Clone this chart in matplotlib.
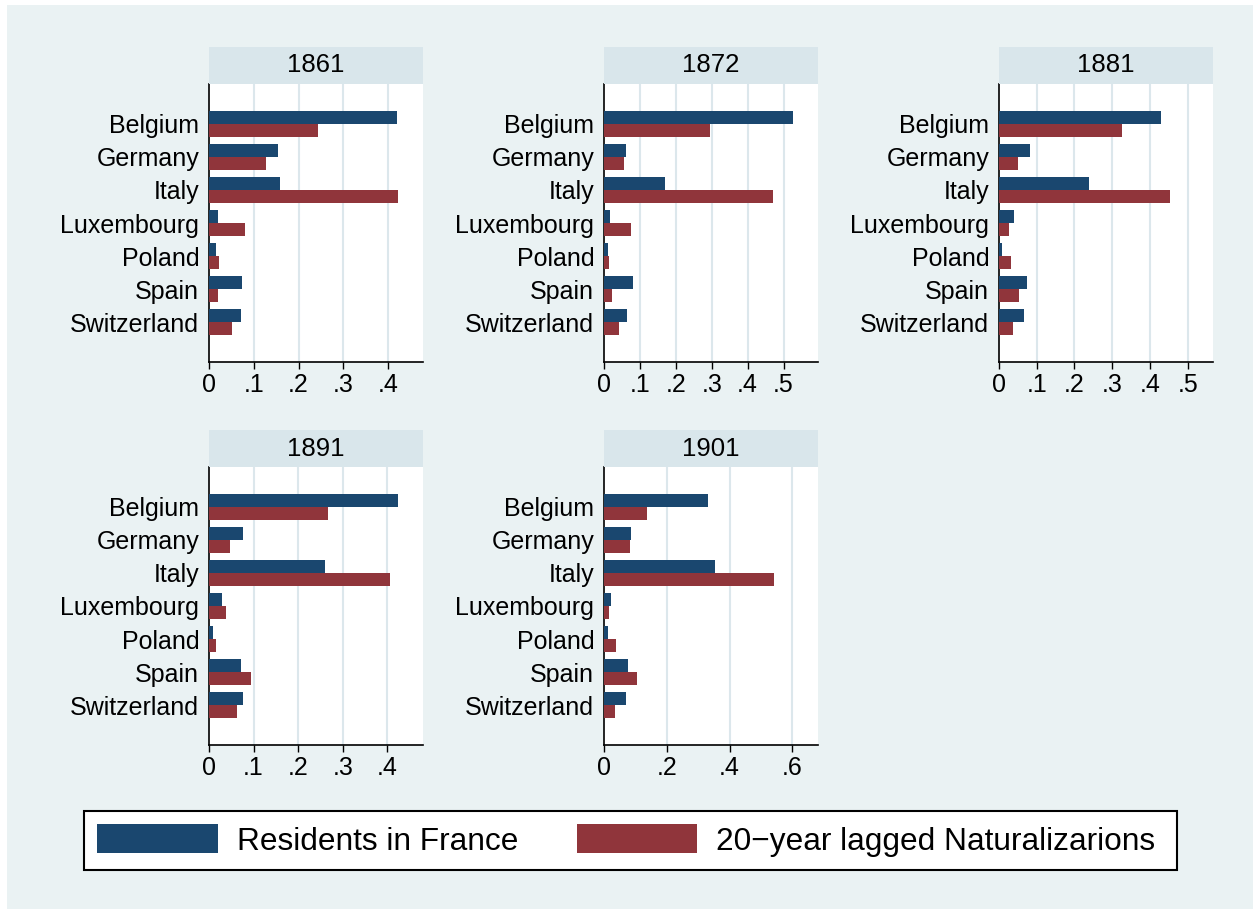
import matplotlib.pyplot as plt
from matplotlib.patches import Rectangle, Patch
from matplotlib.ticker import FuncFormatter
import numpy as np

plt.rcParams['font.family'] = ['Liberation Sans', 'DejaVu Sans']

# Data
countries = ['Belgium', 'Germany', 'Italy', 'Luxembourg', 'Poland', 'Spain', 'Switzerland']
years = ['1861', '1872', '1881', '1891', '1901']

res_1861 = [0.420, 0.154, 0.158, 0.020, 0.016, 0.074, 0.072]
res_1872 = [0.526, 0.060, 0.171, 0.018, 0.011, 0.081, 0.065]
res_1881 = [0.428, 0.081, 0.238, 0.039, 0.007, 0.073, 0.065]
res_1891 = [0.425, 0.076, 0.261, 0.029, 0.010, 0.072, 0.076]
res_1901 = [0.331, 0.086, 0.355, 0.022, 0.013, 0.077, 0.070]

nat_1861 = [0.244, 0.127, 0.422, 0.080, 0.022, 0.020, 0.052]
nat_1872 = [0.294, 0.057, 0.472, 0.074, 0.015, 0.021, 0.042]
nat_1881 = [0.327, 0.051, 0.453, 0.027, 0.033, 0.052, 0.037]
nat_1891 = [0.267, 0.046, 0.407, 0.039, 0.016, 0.094, 0.063]
nat_1901 = [0.138, 0.084, 0.541, 0.017, 0.038, 0.105, 0.036]

residents = [res_1861, res_1872, res_1881, res_1891, res_1901]
naturalizations = [nat_1861, nat_1872, nat_1881, nat_1891, nat_1901]

# axis ranges and tick steps per panel
xmax = [0.478, 0.596, 0.567, 0.480, 0.682]
xstep = [0.1, 0.1, 0.1, 0.1, 0.2]

navy = '#1A476F'
maroon = '#90353B'
bg = '#EAF2F3'
strip_col = '#D9E6EB'
grid_col = '#DCE7EC'

W, H = 1253, 909
fig = plt.figure(figsize=(W / 100, H / 100), dpi=100)
fig.patch.set_facecolor('white')
fig.patches.append(Rectangle((7 / W, 0), 1 - 7 / W, 1 - 5 / H, transform=fig.transFigure,
                             facecolor=bg, edgecolor='none', zorder=-10))

lefts = [209, 604, 999, 209, 604]
tops = [84, 84, 84, 467, 467]
pw, ph, sh = 214, 278, 37


def fmt(v, pos):
    if abs(v) < 1e-9:
        return '0'
    return ('%.1f' % v).lstrip('0')


y = np.arange(len(countries))
bh = 0.39

for k in range(len(years)):
    x0, t0 = lefts[k], tops[k]
    ax = fig.add_axes([x0 / W, 1 - (t0 + ph) / H, pw / W, ph / H])
    ax.set_facecolor('white')
    ax.barh(y - bh / 2, residents[k], height=bh, color=navy, zorder=3)
    ax.barh(y + bh / 2, naturalizations[k], height=bh, color=maroon, zorder=3)
    ax.set_ylim(len(countries) - 1 + 1.21, -1.21)
    ax.set_xlim(0, xmax[k])
    ticks = np.arange(0, xmax[k], xstep[k])
    ax.set_xticks(ticks)
    ax.xaxis.set_major_formatter(FuncFormatter(fmt))
    for t in ticks[1:]:
        ax.axvline(t, color=grid_col, lw=1.5, zorder=1)
    ax.set_yticks(y)
    ax.set_yticklabels(countries)
    ax.tick_params(axis='y', length=0, pad=7, labelsize=18)
    ax.tick_params(axis='x', length=5, width=1, pad=3, labelsize=18)
    for s in ['top', 'right']:
        ax.spines[s].set_visible(False)
    ax.spines['left'].set_linewidth(1.2)
    ax.spines['bottom'].set_linewidth(1.2)

    sax = fig.add_axes([x0 / W, 1 - t0 / H, pw / W, sh / H])
    sax.set_facecolor(strip_col)
    sax.set_xticks([])
    sax.set_yticks([])
    for s in sax.spines.values():
        s.set_visible(False)
    sax.text(0.5, 0.5, years[k], ha='center', va='center', fontsize=18.5,
             transform=sax.transAxes)

handles = [Patch(facecolor=navy, label='Residents in France'),
           Patch(facecolor=maroon, label='20\u2212year lagged Naturalizarions ')]
leg = fig.legend(handles=handles, loc='center', bbox_to_anchor=(630.5 / W, 1 - 840.5 / H),
                 ncol=2, fontsize=22.8, frameon=True, fancybox=False,
                 handlelength=3.8, handleheight=1.0, handletextpad=0.6,
                 columnspacing=1.85, borderpad=0.43, borderaxespad=0)
leg.get_frame().set_edgecolor('black')
leg.get_frame().set_linewidth(1.5)
leg.get_frame().set_facecolor('white')
leg.get_frame().set_alpha(1)

fig.savefig('out.png', dpi=100, facecolor=fig.get_facecolor())
